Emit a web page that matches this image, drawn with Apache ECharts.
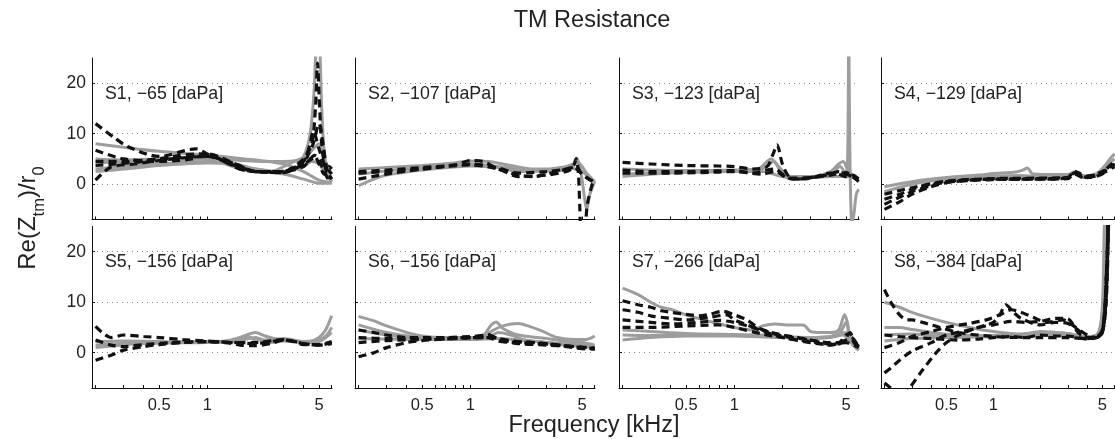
<!DOCTYPE html>
<html>
<head>
<meta charset="utf-8">
<script src="https://cdn.jsdelivr.net/npm/echarts@6/dist/echarts.min.js"></script>
<style>
html,body{margin:0;padding:0;background:#fff;}
#chart{width:1115px;height:439px;}
</style>
</head>
<body>
<div id="chart"></div>
<script>
// ---------- tick / label data ----------
const freqTicks = [0.2,0.3,0.4,0.5,0.6,0.7,0.8,0.9,1,2,3,4,5,6];
const freqLabels = [0.5,1,5];
const yTicks = [0,10,20];
const panelNames = ['S1, \u221265 [daPa]','S2, \u2212107 [daPa]','S3, \u2212123 [daPa]','S4, \u2212129 [daPa]',
                    'S5, \u2212156 [daPa]','S6, \u2212156 [daPa]','S7, \u2212266 [daPa]','S8, \u2212384 [daPa]'];

// ---------- series data: [frequency kHz, Re(Ztm)/r0] ----------
const s1Gray = [
 [[0.2,8],[0.3,7.3],[0.5,6.5],[0.8,6],[1,5.8],[1.5,5.2],[2,4.8],[3,4],[4,2.5],[5,0.8],[6,0.3]],
 [[0.2,5],[0.3,4.8],[0.5,5],[0.8,5.2],[1,5],[1.3,4],[1.6,3],[2,2.5],[2.5,2.5],[3,3.5],[3.5,4.5],[4,5.5],[4.4,10],[4.65,18],[4.85,28],[5.0,28],[5.2,15],[5.4,6],[5.7,2],[6,0.5]],
 [[0.2,3],[0.3,3.5],[0.5,4],[1,4.5],[1.5,3.8],[2,3],[3,2],[4,1],[5,0.2],[6,0.2]],
 [[0.2,2.5],[0.3,3],[0.5,3.7],[1,4.2],[1.5,4],[2,3],[3,2.5],[4,3.5],[4.5,4.5],[5,4],[5.5,2],[6,0.5]],
 [[0.2,4.2],[0.3,4.5],[0.5,4.8],[1,5],[1.6,4.7],[2.2,4.5],[3,4.5],[4,5],[4.6,7],[5,8],[5.4,5],[6,2]]
];
const s1Black = [
 [[0.2,12],[0.26,9.3],[0.32,7.4],[0.5,5.5],[0.85,7],[1,6],[1.3,4.5],[1.6,3],[2,2.5],[2.8,2.5],[3.3,3],[4,4.5],[4.4,8],[4.6,10.5],[5,7],[5.4,4],[6,2]],
 [[0.2,3.7],[0.4,4.5],[0.6,5.5],[0.9,6],[1.1,5.5],[1.6,3],[2,2.5],[2.8,2.3],[3.3,3],[4,5],[4.5,8],[4.75,15],[4.9,24],[5.0,18],[5.2,8],[5.5,3],[6,1]],
 [[0.2,0.8],[0.25,3.4],[0.35,4],[0.6,5],[1,5.5],[1.4,4],[2,2.5],[3,2.3],[4,4],[4.5,5],[4.7,5.5],[5,4],[5.4,2],[5.8,3.5],[6,3]],
 [[0.2,6.7],[0.3,5],[0.5,4.5],[0.8,5],[1,6],[1.5,4],[2,2.5],[3,2.5],[4,4],[4.3,6],[4.6,8],[5.0,12],[5.3,8],[5.6,3],[6,1]],
 [[0.2,4.5],[0.3,4.5],[0.5,5],[1,5.5],[1.5,4],[2,2.5],[3,2.5],[4,3.5],[4.4,5],[4.7,5.7],[5,5],[5.3,3],[5.8,0.5]]
];
const s2Gray = [
 [[0.2,3],[0.3,3.3],[0.5,3.7],[0.8,4.2],[1,4.6],[1.3,4.5],[1.6,4],[2,3.4],[2.5,3],[3,3],[3.5,3.2],[4,3.5],[4.4,4],[4.7,4.3],[5,3.5],[5.4,2],[6,0.5]],
 [[0.2,-0.3],[0.25,1],[0.3,1.8],[0.5,2.8],[0.8,3.4],[1,3.6],[1.5,3.3],[2,2.5],[3,2.6],[4,2.8],[4.4,3.5],[4.6,5.2],[4.8,4],[5,1],[5.2,-3],[5.35,-5],[5.6,-2],[6,0.5]],
 [[0.2,2],[0.4,3],[1,4],[2,3],[3,2.8],[4,3.2],[5,2.5],[6,0.3]]
];
const s2Black = [
 [[0.2,2.5],[0.3,2.8],[0.5,3.3],[0.8,3.8],[1,4.7],[1.2,4.5],[1.5,3],[2,1.8],[2.5,1.5],[3,2],[3.5,2.5],[4,3],[4.4,3.5],[4.6,5],[4.75,2],[4.85,-5],[4.95,-10],[5.15,-10],[5.4,-4],[5.8,0],[6,0.5]],
 [[0.2,1],[0.3,2],[0.5,3],[1,3.8],[1.5,3],[2,1.5],[3,1.8],[4,2.5],[4.5,3.2],[5,2],[5.5,1],[6,0.5]],
 [[0.2,2.2],[0.5,3],[1,4],[1.5,3.2],[2,2.2],[3,2.5],[4,3],[4.6,3.5],[5,2],[6,0.3]]
];
const s3Gray = [
 [[0.2,1.5],[0.4,2.2],[0.8,2.5],[1,2.6],[1.3,2.5],[1.6,3.5],[1.75,4.5],[2,2],[2.2,1.2],[3,1.3],[4,2],[4.6,3.5],[4.9,2.5],[5.1,3],[5.2,28],[5.28,8],[5.35,-3],[5.45,-8],[5.6,-6],[5.8,-2],[6,-1]],
 [[0.2,3],[0.3,2.8],[0.5,2.7],[1,2.8],[1.4,3],[1.7,5],[1.9,3.5],[2.2,1.5],[3,1.5],[4,2.5],[4.5,4],[4.8,4.5],[5.1,3],[5.5,1.5],[6,1]],
 [[0.2,2],[0.5,2.4],[1,2.5],[1.5,2.5],[2,1.5],[3,1.3],[4,1.5],[5,1.5],[6,1]]
];
const s3Black = [
 [[0.2,4.3],[0.3,4],[0.5,3.7],[0.8,3.6],[1,3.5],[1.3,3],[1.6,3.5],[1.75,6],[1.85,7.8],[2,4],[2.2,1.5],[2.5,1],[3,1.3],[4,2],[4.5,2.5],[5,2],[5.5,1.5],[6,1]],
 [[0.2,2.8],[0.3,2.5],[0.5,2.5],[1,2.7],[1.3,2.2],[1.6,2.8],[1.8,3],[2,2],[2.3,1],[3,1.2],[4,2.2],[4.5,2],[5,1.5],[5.5,1.8],[6,1]],
 [[0.2,2.2],[0.4,2.2],[0.8,2.4],[1,2.5],[1.5,2],[1.8,2.5],[2.2,1.2],[3,1.3],[4,1.8],[5,2.3],[5.5,1.5],[6,0.5]]
];
const s4Gray = [
 [[0.2,-0.5],[0.3,0.5],[0.5,1.3],[0.8,1.8],[1,2.1],[1.4,2.4],[1.55,2.8],[1.65,3.2],[1.8,2],[2.5,1.9],[3,1.9],[3.3,2.4],[3.7,1.7],[4.2,1.6],[4.8,2.5],[5.3,4],[5.6,5],[6,6]],
 [[0.2,-1.5],[0.3,0],[0.5,1],[1,1.6],[1.5,1.7],[2,1.5],[3,1.6],[3.3,2.2],[3.8,1.4],[4.5,1.8],[5.2,3.5],[6,5]]
];
const s4Black = [
 [[0.2,-5],[0.25,-3.5],[0.3,-2],[0.4,-0.5],[0.5,0.3],[0.7,0.8],[1,1],[1.5,1],[2,1],[3,1.2],[3.3,2.2],[3.6,1.8],[4,1.3],[4.5,1.5],[5,2],[5.5,3.5],[6,4.5]],
 [[0.2,-3],[0.25,-2],[0.3,-1],[0.4,0],[0.6,0.6],[1,0.9],[2,1],[3,1.1],[3.3,2],[3.8,1.3],[4.5,1.6],[5,2.3],[6,4]],
 [[0.2,-4],[0.3,-1.5],[0.4,-0.3],[0.5,0.5],[1,1],[2,1.1],[3,1.3],[3.4,2.4],[4,1.5],[5,2.5],[6,4]],
 [[0.2,-2],[0.3,-0.7],[0.5,0.6],[1,1.1],[2,1.2],[3,1.3],[3.3,2.6],[3.8,1.6],[5,2.2],[6,3.5]]
];
const s5Gray = [
 [[0.2,1.5],[0.3,1.8],[0.5,2],[1,2.2],[1.3,2.3],[1.6,3],[2,4],[2.3,3.3],[2.6,2.8],[3,2.5],[3.5,2.4],[4,2],[4.5,2.3],[5,3],[5.5,4.5],[6,7.3]],
 [[0.2,2.2],[0.3,2.3],[0.5,2.2],[1,2],[1.5,2.5],[1.8,3.2],[2,2.5],[2.5,2.5],[3,2.8],[4,2.2],[5,2.5],[5.6,3.5],[6,5]],
 [[0.2,1],[0.4,1.8],[1,2],[1.5,2.2],[2,3],[2.5,2],[3,2.3],[4,2],[5,2.2],[6,4]]
];
const s5Black = [
 [[0.2,5.2],[0.22,4],[0.25,3],[0.3,3.5],[0.4,3.2],[0.5,3],[0.7,2.6],[1,2.3],[1.5,2],[2,1.8],[2.5,2.2],[3,2.5],[3.5,2.2],[4,1.8],[5,1.5],[6,2]],
 [[0.2,-1.5],[0.25,-0.5],[0.3,0.5],[0.4,1.2],[0.5,1.6],[0.7,2],[1,2.2],[1.3,2],[1.6,1.5],[2,1.4],[2.5,1.8],[3,2.5],[3.5,2.2],[4,1.6],[5,1.6],[6,2.2]],
 [[0.2,2.5],[0.25,1.5],[0.3,1.2],[0.4,1.6],[0.6,2],[1,2.2],[1.5,2],[2,2],[3,2.6],[4,1.8],[5,1.5],[6,1.8]]
];
const s6Gray = [
 [[0.2,7.2],[0.25,6.3],[0.3,5.3],[0.4,4],[0.5,3.3],[0.7,3],[1,3],[1.2,3.2],[1.4,4.5],[1.6,5.3],[1.8,5.7],[2,5.8],[2.3,5.3],[2.8,4.3],[3.5,3],[4.5,2.6],[5.3,2.6],[6,3.3]],
 [[0.2,5.5],[0.3,4],[0.5,3],[1,2.8],[1.2,3.3],[1.35,5.5],[1.45,6.1],[1.6,4.8],[2,3.5],[3,2.8],[4,2.2],[5,2],[6,1.5]],
 [[0.2,4.5],[0.3,3.5],[0.5,2.8],[1,2.8],[1.3,3],[1.5,4],[1.8,3.5],[2.2,2.5],[3,2],[4,1.5],[5,1.2],[6,1]],
 [[0.2,2.8],[0.5,2.6],[1,2.6],[1.5,2.8],[2,2.5],[3,2],[5,1.5],[6,1.2]]
];
const s6Black = [
 [[0.2,4.5],[0.25,4],[0.3,3.5],[0.4,3],[0.5,3],[0.7,3],[1,3.2],[1.3,3.4],[1.5,2.8],[2,2.2],[3,1.8],[4,1.3],[5,1],[6,0.8]],
 [[0.2,-0.8],[0.25,0],[0.3,1],[0.4,2],[0.5,2.4],[0.7,2.7],[1,3],[1.3,3],[1.5,2.3],[2,2],[3,1.7],[4,1.3],[5,1],[6,0.8]],
 [[0.2,2],[0.3,2.4],[0.5,2.6],[1,3],[1.3,3.6],[1.5,2.5],[2,1.8],[3,1.5],[4,1.2],[5,0.8],[6,0.7]],
 [[0.2,3],[0.3,2.8],[0.5,2.8],[1,3],[1.4,3],[1.7,2.3],[2.5,2],[3.5,1.5],[5,1.1],[6,0.9]]
];
const s7Gray = [
 [[0.2,12.8],[0.25,11.5],[0.3,10],[0.35,9],[0.4,8.6],[0.5,7.5],[0.7,6.2],[1,5],[1.3,4.5],[1.5,5.3],[1.8,5.7],[2.2,5.5],[2.7,5.5],[3,4.2],[3.5,4],[4,4],[4.5,4.5],[4.9,7.5],[5.1,6],[5.4,2],[6,0.5]],
 [[0.2,4.5],[0.3,4.2],[0.5,3.8],[1,3.6],[1.5,3.5],[2,3.2],[3,3],[4,3.2],[4.6,4],[5,6],[5.3,3],[6,0.8]],
 [[0.2,3.5],[0.3,3.4],[0.5,3.4],[1,3.4],[1.5,3.2],[2,3],[3,2.8],[4,3],[4.8,3.5],[5.2,2.5],[6,0.5]],
 [[0.2,2.5],[0.3,3],[0.5,3.3],[1,3.3],[2,3],[3,3],[4,3.2],[5,4],[5.5,2],[6,1]]
];
const s7Black = [
 [[0.2,10.3],[0.25,9.5],[0.3,9],[0.35,8.3],[0.4,8],[0.5,7.6],[0.6,7.3],[0.7,7.6],[0.85,8.2],[1,7.5],[1.2,6.5],[1.4,5],[1.7,4],[2,3.5],[2.5,3],[3,2.5],[4,2],[4.5,2],[5,3.5],[5.3,3.8],[5.6,2.5],[6,1.2]],
 [[0.2,8.5],[0.25,8],[0.3,7.3],[0.4,6.8],[0.5,6.5],[0.7,7],[0.9,7.5],[1,6.5],[1.2,5.5],[1.5,4.5],[2,3.3],[3,2.5],[4,1.7],[4.6,1.8],[5,3],[5.3,4],[5.6,2],[6,1]],
 [[0.2,6.5],[0.3,6],[0.4,5.7],[0.6,6],[0.8,6.4],[1,6],[1.3,5],[1.6,4],[2,3],[3,2.2],[4,1.5],[5,2.5],[5.4,3],[6,1]],
 [[0.2,5],[0.3,5],[0.5,5.3],[0.8,5.5],[1,5],[1.5,3.7],[2,3],[3,2],[4,1.6],[5,2],[6,1]]
];
const s8Gray = [
 [[0.2,10],[0.25,9],[0.3,8],[0.4,6.8],[0.5,6],[0.7,5],[1,4.2],[1.5,3.7],[2,4],[3,3.8],[4,3],[4.6,3.5],[4.9,6],[5.05,12],[5.15,25],[5.3,30],[6,30]],
 [[0.2,5],[0.25,5],[0.3,4.6],[0.4,4],[0.6,3.5],[1,3.4],[1.5,3.5],[2,4.2],[3,3.8],[4,3.2],[4.7,3.8],[5,8],[5.2,20],[5.35,30],[6,30]],
 [[0.2,3.5],[0.3,3.7],[0.4,3.4],[0.6,3.3],[1,3.3],[2,3.8],[3,3.5],[4,3],[4.8,4],[5.1,12],[5.3,28],[6,30]],
 [[0.2,2.3],[0.3,2.8],[0.5,3],[1,3.2],[2,3.6],[3,3.3],[4,2.8],[5,4],[5.2,15],[5.4,30],[6,30]]
];
const s8Black = [
 [[0.2,12.5],[0.22,10],[0.25,7.5],[0.28,6.5],[0.3,6.5],[0.35,6],[0.4,5.5],[0.6,4],[1,3.2],[1.5,3],[2,3],[3,3],[4,2.8],[4.5,3],[5,4],[5.3,15],[5.5,30]],
 [[0.2,-6],[0.23,-7.5],[0.26,-9],[0.29,-7],[0.35,-3.5],[0.43,0],[0.5,2],[0.6,3.5],[0.8,5],[1,5.5],[1.3,6.2],[1.6,6],[2,6.2],[2.5,6.8],[3,6.7],[3.5,4],[4,3],[4.5,3],[5,4.5],[5.3,12],[5.5,30]],
 [[0.2,-4],[0.22,-3],[0.25,-1.5],[0.3,0.3],[0.4,2],[0.5,3.5],[0.7,4.5],[0.9,5.5],[1,6],[1.1,7.5],[1.2,9.5],[1.35,8],[1.5,6.8],[2,5.5],[2.5,6],[3,5.8],[3.5,4.5],[4,3],[4.5,3],[5,4],[5.3,12],[5.5,30]],
 [[0.2,1],[0.25,2],[0.3,3.2],[0.4,4.2],[0.5,5],[0.7,5.8],[0.9,6.5],[1.1,7.5],[1.3,8.5],[1.5,8],[1.8,7],[2.2,6],[2.8,6.5],[3.2,5.5],[4,3.5],[4.6,3],[5,4],[5.3,15],[5.5,30]],
 [[0.2,3.5],[0.25,3.2],[0.3,3],[0.4,2.8],[0.6,2.5],[0.8,2.7],[1,3],[1.3,3.2],[1.6,3],[2,3.5],[2.5,3.3],[3,3.3],[4,2.7],[4.6,3],[5,4],[5.3,10],[5.5,28]]
];

const panels = [
 {gray:s1Gray, black:s1Black}, {gray:s2Gray, black:s2Black}, {gray:s3Gray, black:s3Black}, {gray:s4Gray, black:s4Black},
 {gray:s5Gray, black:s5Black}, {gray:s6Gray, black:s6Black}, {gray:s7Gray, black:s7Black}, {gray:s8Gray, black:s8Black}
];

// ---------- layout ----------
const colLeft = [92, 355, 619, 881];
const colWidth = 240;
const rowTop = [58, 226.5];
const rowHeight = 161.5;
const FONT = "'Liberation Sans', Arial, Helvetica, sans-serif";

const grids = [], xAxes = [], yAxes = [], series = [], graphics = [];
panels.forEach((p, i) => {
  const r = Math.floor(i / 4), c = i % 4;
  grids.push({left: colLeft[c], top: rowTop[r], width: colWidth, height: rowHeight, containLabel: false});
  xAxes.push({
    type: 'log', gridIndex: i, min: 0.19, max: 6.03, logBase: 10,
    axisLine: {show: true, onZero: false, lineStyle: {color: '#111', width: 1}},
    axisTick: {show: true, inside: true, length: 3, customValues: freqTicks, lineStyle: {color: '#111'}},
    axisLabel: {show: r === 1, customValues: freqLabels, margin: 9, color: '#222', fontSize: 16.5, fontFamily: FONT,
                formatter: v => String(Math.round(v * 10) / 10)},
    splitLine: {show: false}, minorTick: {show: false}, minorSplitLine: {show: false}
  });
  yAxes.push({
    type: 'value', gridIndex: i, min: -7, max: 25,
    axisLine: {show: true, lineStyle: {color: '#111', width: 1}},
    axisTick: {show: true, inside: true, length: 3, customValues: yTicks, lineStyle: {color: '#111'}},
    axisLabel: {show: c === 0, customValues: yTicks, margin: 6, color: '#222', fontSize: 17.5, fontFamily: FONT},
    splitLine: {show: true, lineStyle: {color: '#888', width: 1, type: [1, 4]}}
  });
  p.gray.forEach(d => series.push({
    type: 'line', xAxisIndex: i, yAxisIndex: i, data: d, showSymbol: false, symbol: 'none', smooth: 0.3,
    clip: true, lineStyle: {color: '#9d9d9d', width: 3}, z: 2
  }));
  p.black.forEach(d => series.push({
    type: 'line', xAxisIndex: i, yAxisIndex: i, data: d, showSymbol: false, symbol: 'none', smooth: 0.3,
    clip: true, lineStyle: {color: '#111', width: 3.2, type: [8, 5]}, z: 3
  }));
  graphics.push({
    type: 'text', left: colLeft[c] + 13, top: rowTop[r] + 27, z: 10,
    style: {text: panelNames[i], font: '17.8px ' + FONT, fill: '#222'}
  });
});

graphics.push({
  type: 'text', x: 592, y: 21, z: 10,
  style: {text: 'TM Resistance', font: '23.5px ' + FONT, fill: '#222', align: 'center', verticalAlign: 'middle'}
});
graphics.push({
  type: 'text', x: 594, y: 426, z: 10,
  style: {text: 'Frequency [kHz]', font: '23.5px ' + FONT, fill: '#222', align: 'center', verticalAlign: 'middle'}
});
graphics.push({
  type: 'text', x: 28, y: 218, rotation: Math.PI / 2, z: 10,
  style: {
    text: '{n|Re(Z}{s|tm}{n|)/r}{s|0}', align: 'center', verticalAlign: 'middle', fill: '#222',
    rich: {
      n: {fontSize: 24, fontFamily: FONT, fill: '#222', verticalAlign: 'top', lineHeight: 28, height: 28},
      s: {fontSize: 16.5, fontFamily: FONT, fill: '#222', verticalAlign: 'top', lineHeight: 28, height: 28, padding: [11, 0, 0, 0]}
    }
  }
});

const chart = echarts.init(document.getElementById('chart'), null, {renderer: 'canvas'});
chart.setOption({
  animation: false,
  backgroundColor: '#fff',
  grid: grids, xAxis: xAxes, yAxis: yAxes, series: series, graphic: graphics
});
</script>
</body>
</html>
